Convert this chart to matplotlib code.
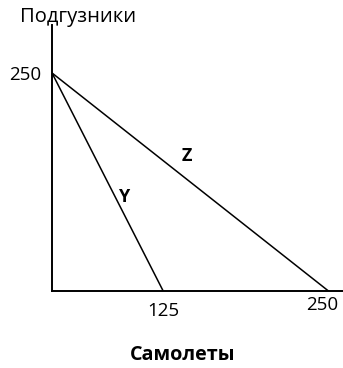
import numpy as np
import matplotlib
matplotlib.use("Agg")
import matplotlib.pyplot as plt
import matplotlib.transforms as mtransforms

# Data: budget lines, planes vs diapers
intercept_y = 250
x_intercepts = [125, 250]
line_names = ["Y", "Z"]
x_ticks = [125, 250]
y_ticks = [250]

plt.rcParams['font.family'] = ['Open Sans', 'DejaVu Sans']

# the picture is hand drawn, so the x axis is not quite linear
def fwd(x):
    return np.interp(x, [0, 125, 250, 400], [0, 111, 276, 474])

def inv(p):
    return np.interp(p, [0, 111, 276, 474], [0, 125, 250, 400])

fig = plt.figure(figsize=(3.43, 3.68), dpi=100)
ax = fig.add_axes([52/343, 77/368, 291/343, 266/368])
ax.set_xscale('function', functions=(fwd, inv))

for xi in x_intercepts:
    ax.plot([0, xi], [intercept_y, 0], color='black', lw=1.1)

# labels of the lines
ax.text(80, 108, line_names[0], fontsize=13, fontweight='bold', ha='center', va='center')
ax.text(143, 155, line_names[1], fontsize=13, fontweight='bold', ha='center', va='center')

ax.set_xlim(0, 261)
ax.set_ylim(0, 305)
ax.set_xticks(x_ticks)
ax.set_xticklabels([str(t) for t in x_ticks])
ax.set_yticks(y_ticks)
ax.set_yticklabels([str(t) for t in y_ticks])
ax.tick_params(length=0, labelsize=13.5)
ax.tick_params(axis='x', pad=8)
ax.tick_params(axis='y', pad=8)
ax.spines['top'].set_visible(False)
ax.spines['right'].set_visible(False)
ax.spines['left'].set_linewidth(1.4)
ax.spines['bottom'].set_linewidth(1.4)

# last x label sits a bit left and higher in the reference
last = ax.get_xticklabels()[-1]
last.set_transform(last.get_transform() + mtransforms.ScaledTranslation(-6/100, 6/100, fig.dpi_scale_trans))

fig.text(20/343, 1 - 17/368, "Подгузники", fontsize=14.5, ha='left', va='center')
fig.text(183/343, 1 - 355/368, "Самолеты", fontsize=14.2, fontweight='bold', ha='center', va='center')

fig.savefig("out.png", dpi=100)
